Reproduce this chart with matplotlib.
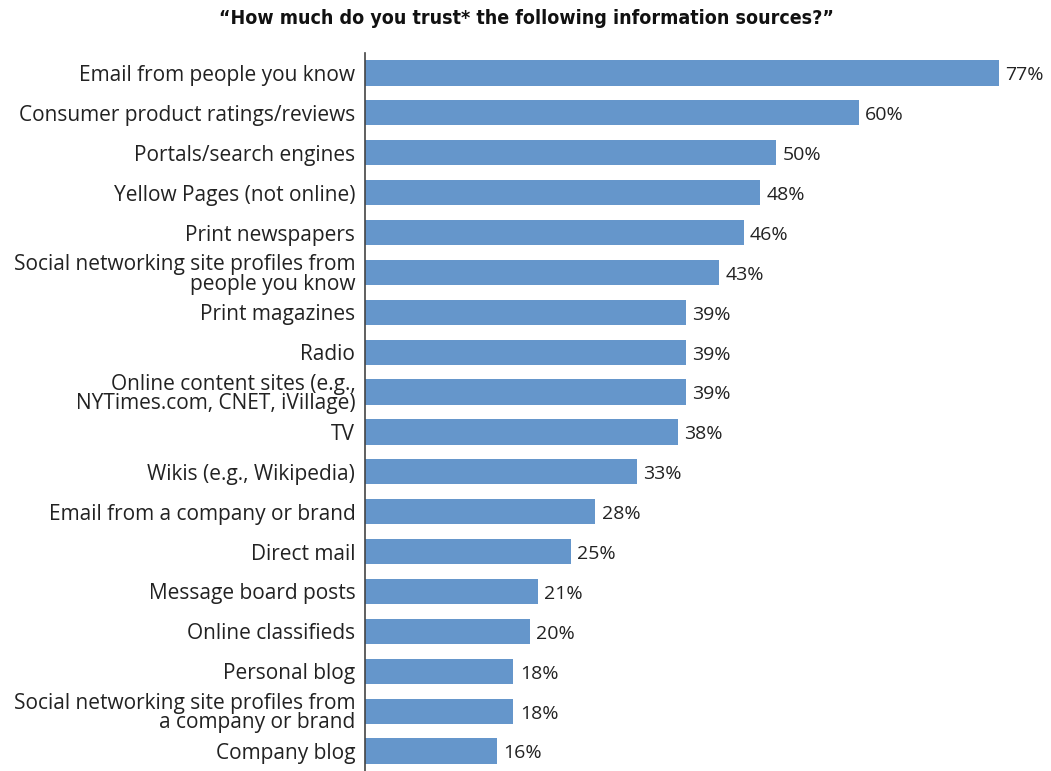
import matplotlib
matplotlib.use('Agg')
import matplotlib.pyplot as plt

# Data
sources = ['Email from people you know',
           'Consumer product ratings/reviews',
           'Portals/search engines',
           'Yellow Pages (not online)',
           'Print newspapers',
           'Social networking site profiles from\npeople you know',
           'Print magazines',
           'Radio',
           'Online content sites (e.g.,\nNYTimes.com, CNET, iVillage)',
           'TV',
           'Wikis (e.g., Wikipedia)',
           'Email from a company or brand',
           'Direct mail',
           'Message board posts',
           'Online classifieds',
           'Personal blog',
           'Social networking site profiles from\na company or brand',
           'Company blog']
trust = [77, 60, 50, 48, 46, 43, 39, 39, 39, 38, 33, 28, 25, 21, 20, 18, 18, 16]

title = '\u201cHow much do you trust* the following information sources?\u201d'

W, H = 1051, 771
fig = plt.figure(figsize=(W / 100, H / 100), dpi=100)
ax = fig.add_axes([365 / W, 0, 683 / W, 718 / H])

pos = list(range(len(sources)))
ax.barh(pos, trust, height=0.63, color='#6596cb', edgecolor='none')

for p, v in zip(pos, trust):
    ax.text(v + 0.8, p + 0.06, f'{v}%', ha='left', va='center',
            fontsize=14, family='Open Sans', color='#222222')

ax.set_xlim(0, 83)
ax.set_ylim(17.5, -0.5)
ax.set_yticks(pos)
ax.set_yticklabels(sources, fontsize=15, family='Open Sans',
                   color='#222222', linespacing=0.92)
ax.tick_params(axis='y', length=0, pad=7)
ax.set_xticks([])
for s in ['top', 'right', 'bottom']:
    ax.spines[s].set_visible(False)
ax.spines['left'].set_color('#444444')
ax.spines['left'].set_linewidth(1.2)

fig.text(526 / W, 1 - 18 / H, title, ha='center', va='center',
         fontsize=14, fontweight='bold', fontstretch='condensed',
         family='DejaVu Sans', color='#111111')

fig.savefig('out.png', dpi=100)
